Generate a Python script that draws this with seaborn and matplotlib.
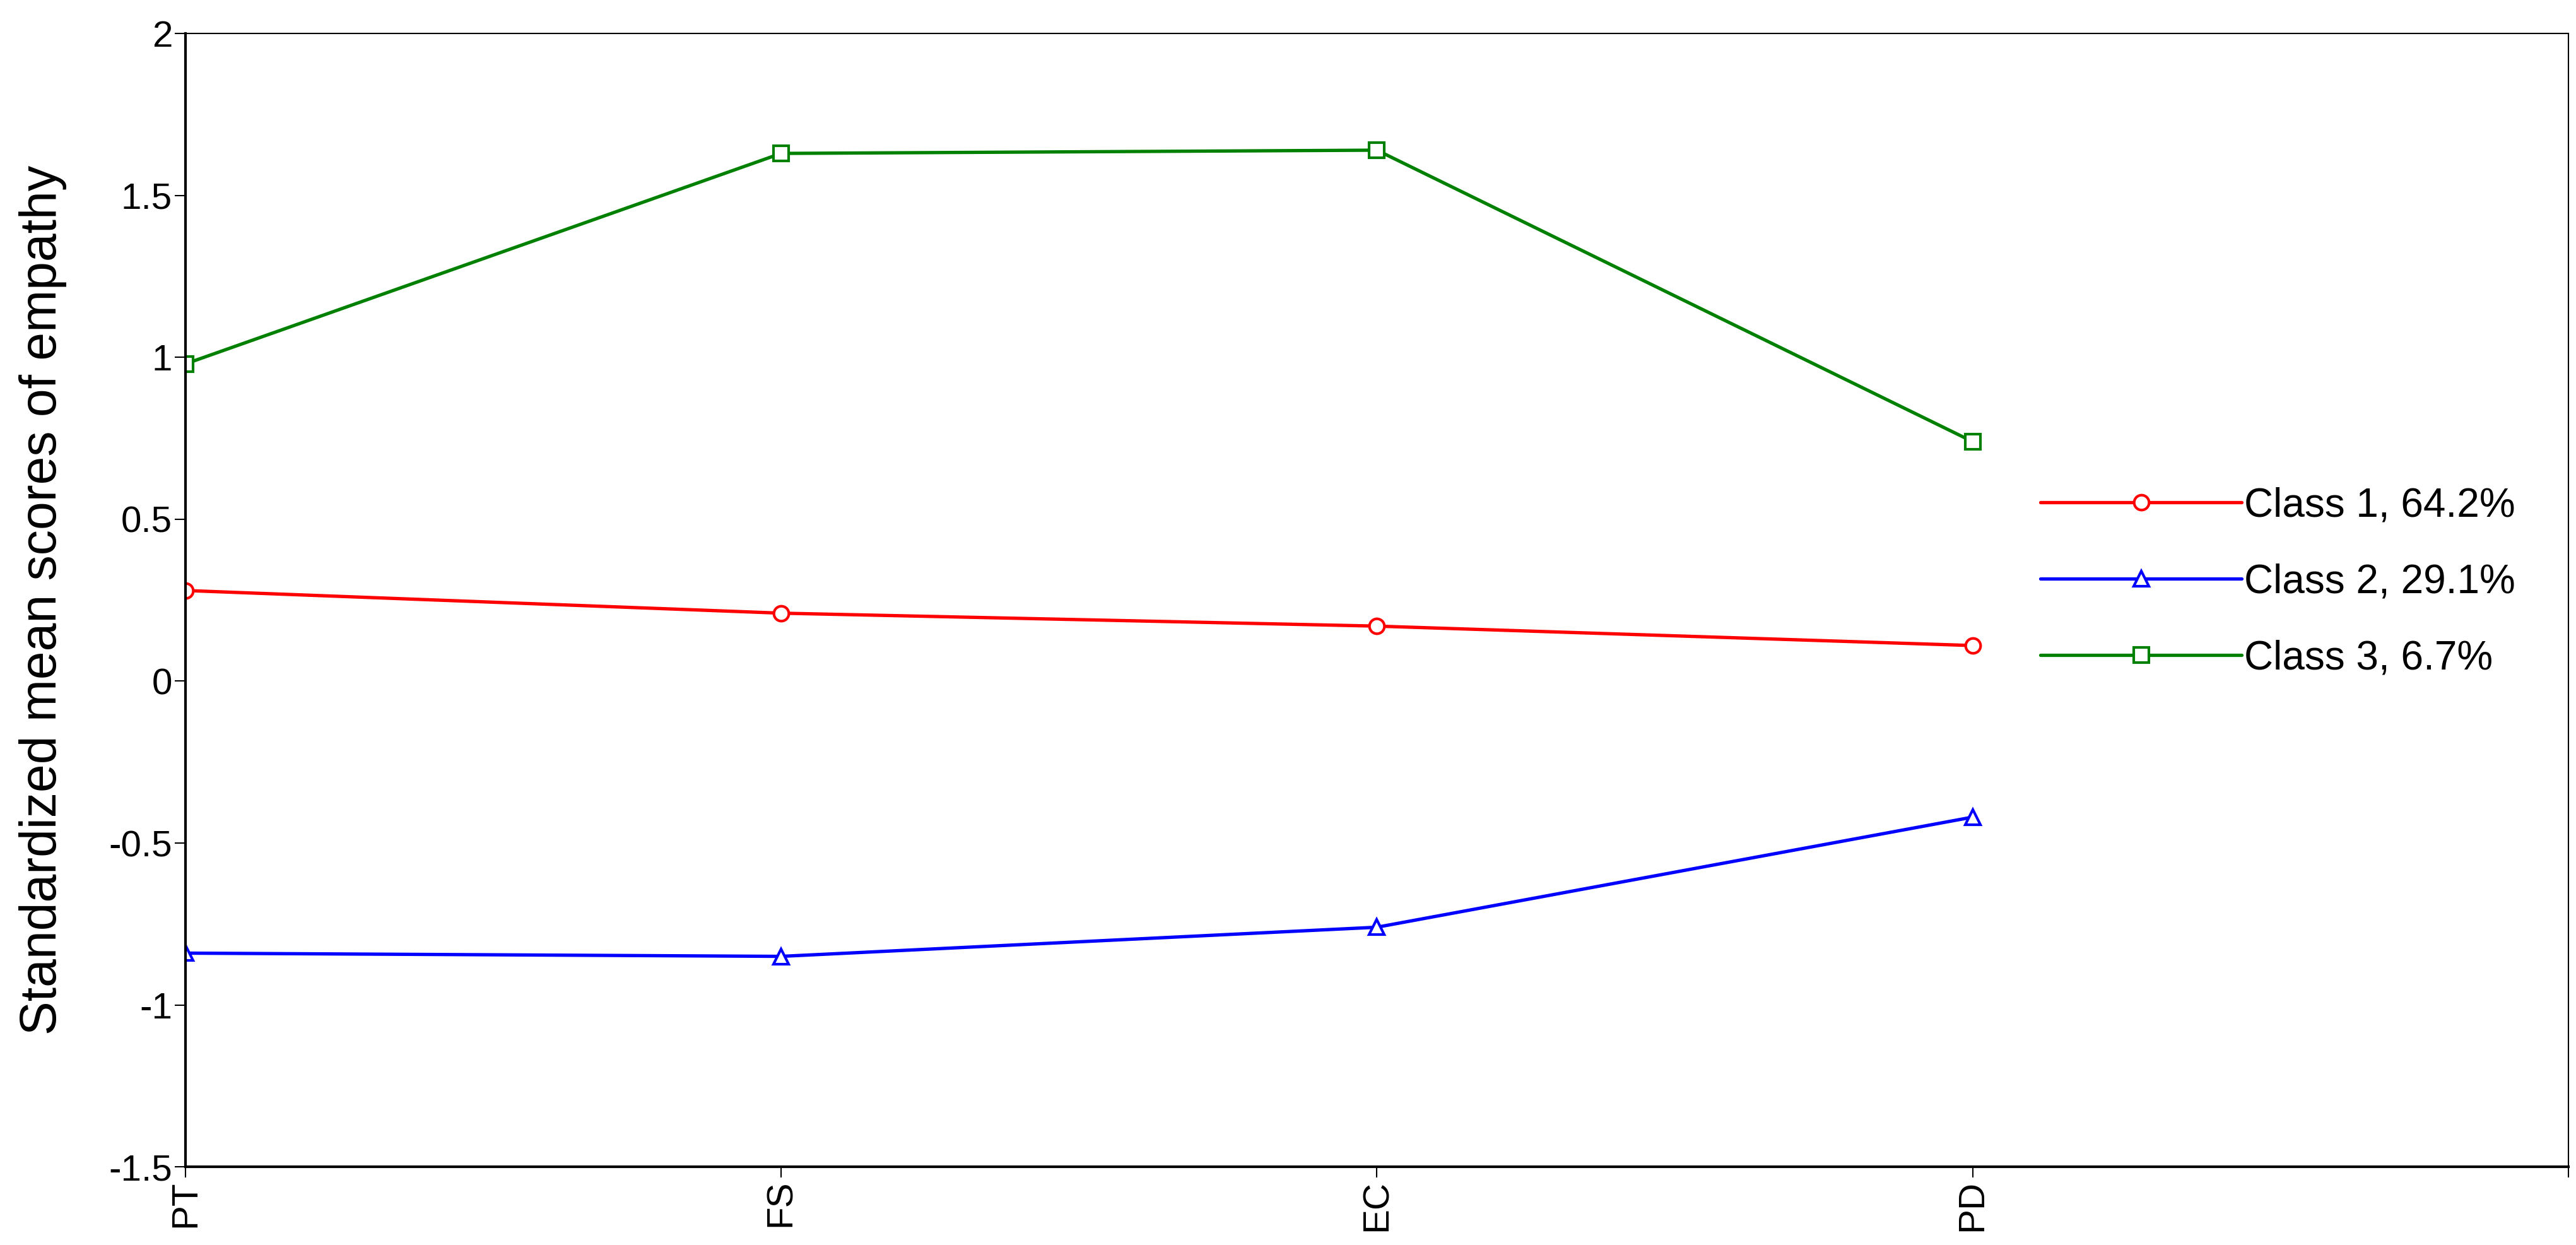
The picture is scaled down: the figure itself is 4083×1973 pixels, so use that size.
import numpy as np
import pandas as pd
import seaborn as sns
import matplotlib.pyplot as plt

# 資料（從圖上估計）
subscales = ["PT", "FS", "EC", "PD"]
class_names = ["Class 1, 64.2%", "Class 2, 29.1%", "Class 3, 6.7%"]
class1 = [0.28, 0.21, 0.17, 0.11]
class2 = [-0.84, -0.85, -0.76, -0.42]
class3 = [0.98, 1.63, 1.64, 0.74]
y_ticks = [-1.5, -1, -0.5, 0, 0.5, 1, 1.5, 2]

# 長格式表格給 seaborn
df = pd.DataFrame({
    "subscale": subscales * 3,
    "score": class1 + class2 + class3,
    "cls": [c for c in class_names for _ in subscales],
})

sns.set_style("white")
plt.rcParams["font.family"] = ["Liberation Sans", "DejaVu Sans"]
plt.rcParams["axes.unicode_minus"] = False
plt.rcParams["text.color"] = "black"
plt.rcParams["axes.labelcolor"] = "black"
plt.rcParams["xtick.color"] = "black"
plt.rcParams["ytick.color"] = "black"

colors = {class_names[0]: "#ff0000", class_names[1]: "#0000ff", class_names[2]: "#008000"}
markers = {class_names[0]: "o", class_names[1]: "^", class_names[2]: "s"}

fig = plt.figure(figsize=(40.83, 19.73), dpi=100)
ax = fig.add_axes([0.072, 0.0628, 0.925, 0.9102])

sns.lineplot(
    data=df, x="subscale", y="score", hue="cls", style="cls",
    palette=colors, markers=markers, dashes=False, sort=False,
    linewidth=3.8, markersize=17, markeredgewidth=3, ax=ax,
)

# 空心標記，邊框用線條顏色
for line in ax.lines:
    line.set_markeredgecolor(line.get_color())
    line.set_markerfacecolor("white")

ax.set_xlim(0, 4)
ax.set_ylim(-1.5, 2)
ax.set_xticks(range(5))
ax.set_xticklabels(subscales + [""], rotation=90, fontsize=42)
ax.set_yticks(y_ticks)
ax.set_yticklabels([f"{v:g}" for v in y_ticks], fontsize=42)
ax.tick_params(axis="both", direction="out", length=12, width=1.5, color="black",
               labelcolor="black", pad=3, left=True, bottom=True)
ax.set_xlabel("")
ax.set_ylabel("Standardized mean scores of empathy", fontsize=58, labelpad=48,
              color="black")

for side in ["left", "bottom"]:
    ax.spines[side].set_linewidth(3)
    ax.spines[side].set_color("black")
for side in ["top", "right"]:
    ax.spines[side].set_linewidth(1.5)
    ax.spines[side].set_color("black")

handles, labels = ax.get_legend_handles_labels()
for h in handles:
    h.set_markeredgecolor(h.get_color())
    h.set_markerfacecolor("white")
ax.legend(
    handles, labels, loc="center left", bbox_to_anchor=(0.770, 0.516),
    frameon=False, fontsize=46, handlelength=5.0, handletextpad=0.05,
    labelspacing=0.95, borderpad=0, labelcolor="black",
)

plt.savefig("out.png", dpi=100)
